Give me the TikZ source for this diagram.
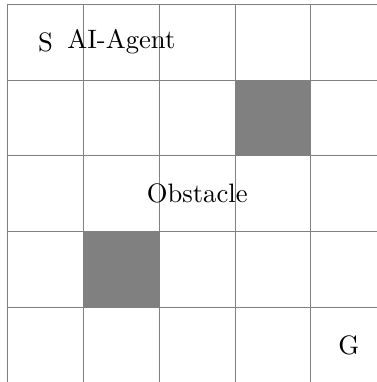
\documentclass[tikz,border=0pt]{standalone}
\begin{document}
\begin{tikzpicture}[
  gridline/.style={gray, thin},
  obstacle/.style={fill=gray, draw=none},
  label/.style={inner sep=0pt}
]
\useasboundingbox (-0.1016,0.0171) rectangle (4.872,5.0567);
\fill[obstacle] (3,3) rectangle (4,4);
\fill[obstacle] (1,1) rectangle (2,2);
\draw[gridline] (0,0) grid (5,5);
\node[label] (s) at (0.5,4.5) {S};
\node[label] (agent) at (1.5,4.5) {AI-Agent};
\node[label] (obs) at (2.5,2.5) {Obstacle};
\node[label] (g) at (4.5,0.5) {G};
\end{tikzpicture}
\end{document}
